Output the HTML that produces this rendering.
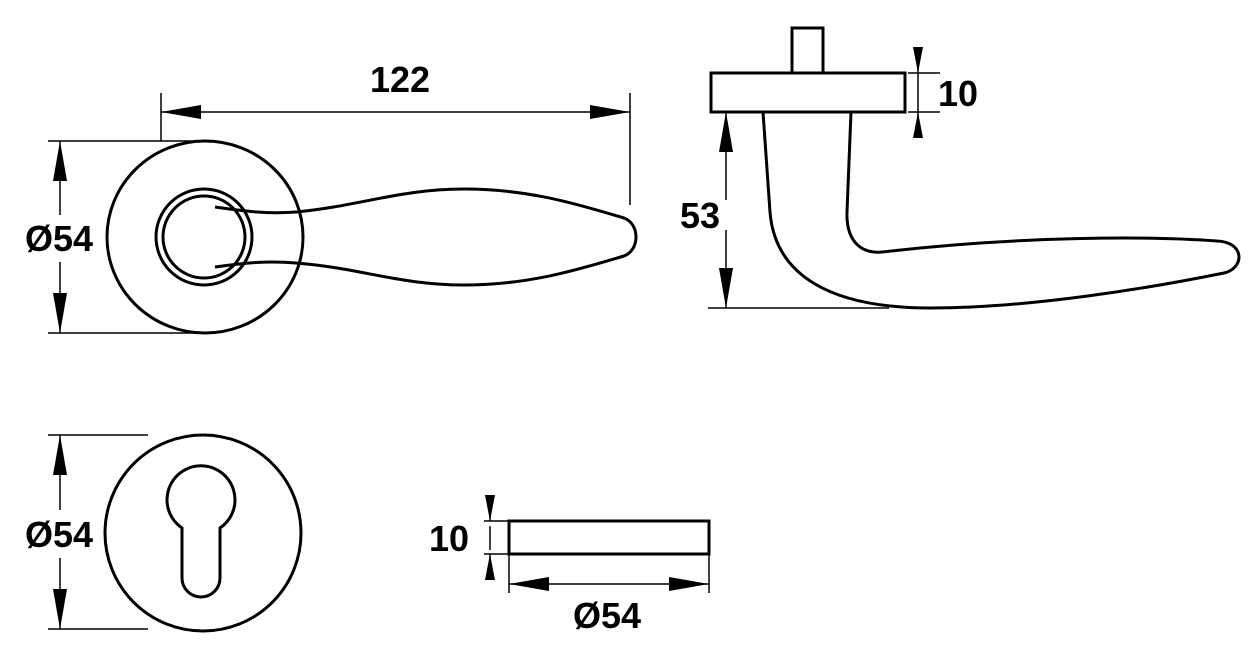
<!DOCTYPE html>
<html><head><style>
html,body{margin:0;padding:0;background:#fff;}
svg{display:block;}
text{font-family:"Liberation Sans",Arial,sans-serif;font-weight:bold;font-size:36px;fill:#000;}
</style></head><body>
<svg width="1255" height="651" viewBox="0 0 1255 651" xmlns="http://www.w3.org/2000/svg">
<defs>
<marker id="a" viewBox="0 0 40 14" refX="40" refY="7" markerWidth="40" markerHeight="14" markerUnits="userSpaceOnUse" orient="auto-start-reverse">
<path d="M0,0 L40,7 L0,14 Z" fill="#000"/>
</marker>
<marker id="s" viewBox="0 0 26 10" refX="26" refY="5" markerWidth="26" markerHeight="10" markerUnits="userSpaceOnUse" orient="auto-start-reverse">
<path d="M0,0 L26,5 L0,10 Z" fill="#000"/>
</marker>
</defs>
<g fill="none" stroke="#000">
<!-- front view -->
<g stroke-width="1.5">
<line x1="48" y1="141" x2="205" y2="141"/>
<line x1="48" y1="333" x2="205" y2="333"/>
<line x1="161" y1="93" x2="161" y2="141"/>
<line x1="630" y1="93" x2="630" y2="205"/>
<line x1="60" y1="141" x2="60" y2="215" marker-start="url(#a)"/>
<line x1="60" y1="262" x2="60" y2="333" marker-end="url(#a)"/>
<line x1="161" y1="112" x2="630" y2="112" marker-start="url(#a)" marker-end="url(#a)"/>
</g>
<g stroke-width="3">
<ellipse cx="205" cy="237" rx="98" ry="96"/>
<circle cx="204" cy="237" r="48"/>
<circle cx="204" cy="237" r="41"/>
<path d="M215,207 C250,212 270,214 296,212 C360,206 400,189 464,189 C530,189 580,205 624,218 C640,224 640,250 624,256 C580,269 530,285 464,285 C400,285 360,268 296,263 C270,261 250,262 215,267"/>
</g>
<!-- side view -->
<g stroke-width="1.5">
<line x1="708" y1="308" x2="889" y2="308"/>
<line x1="726" y1="112" x2="726" y2="200" marker-start="url(#a)"/>
<line x1="726" y1="230" x2="726" y2="308" marker-end="url(#a)"/>
<line x1="908" y1="73" x2="940" y2="73"/>
<line x1="908" y1="112" x2="940" y2="112"/>
<line x1="918" y1="47" x2="918" y2="73" marker-end="url(#s)"/>
<line x1="918" y1="138" x2="918" y2="112" marker-end="url(#s)"/>
<line x1="918" y1="73" x2="918" y2="112"/>
</g>
<g stroke-width="3">
<rect x="711" y="73" width="194" height="39"/>
<rect x="792" y="28" width="31" height="45"/>
<path d="M763,112 L770,212 C775,275 830,308 930,308 C1030,308 1150,288 1224,273 C1245,268 1245,242 1217,241 C1150,236 1020,236 882,252 C860,254 846,240 847,212 L851,112"/>
</g>
<!-- escutcheon -->
<g stroke-width="1.5">
<line x1="48" y1="435" x2="148" y2="435"/>
<line x1="48" y1="629" x2="148" y2="629"/>
<line x1="60" y1="435" x2="60" y2="510" marker-start="url(#a)"/>
<line x1="60" y1="558" x2="60" y2="629" marker-end="url(#a)"/>
</g>
<g stroke-width="3">
<ellipse cx="203" cy="533" rx="98" ry="98"/>
<path d="M182,528 A34,34 0 1 1 220,528 L220,578 A19,19 0 0 1 182,578 Z"/>
</g>
<!-- escutcheon side -->
<g stroke-width="1.5">
<line x1="484" y1="521" x2="508" y2="521"/>
<line x1="484" y1="554" x2="508" y2="554"/>
<line x1="490" y1="495" x2="490" y2="521" marker-end="url(#s)"/>
<line x1="490" y1="580" x2="490" y2="554" marker-end="url(#s)"/>
<line x1="490" y1="526" x2="490" y2="550"/>
<line x1="509" y1="554" x2="509" y2="593"/>
<line x1="709" y1="554" x2="709" y2="593"/>
<line x1="509" y1="584" x2="709" y2="584" marker-start="url(#a)" marker-end="url(#a)"/>
</g>
<rect x="509" y="521" width="200" height="33" stroke-width="3"/>
</g>
<text x="400" y="92" text-anchor="middle">122</text>
<text x="59" y="251" text-anchor="middle">Ø54</text>
<text x="700" y="228" text-anchor="middle">53</text>
<text x="958" y="106" text-anchor="middle">10</text>
<text x="59" y="547" text-anchor="middle">Ø54</text>
<text x="449" y="551" text-anchor="middle">10</text>
<text x="607" y="628" text-anchor="middle">Ø54</text>
</svg>
</body></html>
